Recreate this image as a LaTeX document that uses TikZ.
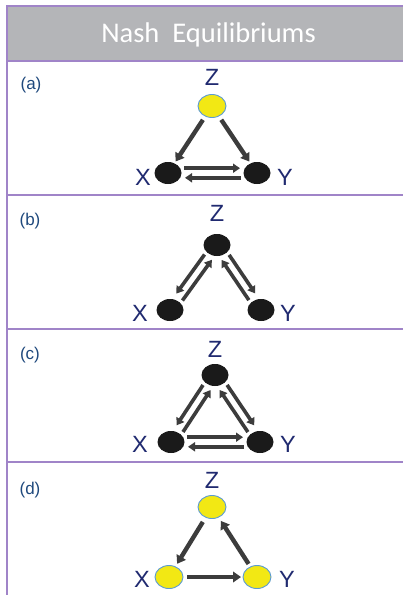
\documentclass[tikz,border=0pt]{standalone}
\usepackage{fontspec}
\setmainfont{Liberation Sans}
\newfontfamily\headfont{Carlito}
\usetikzlibrary{arrows.meta,calc,shapes.geometric}
\definecolor{headgray}{RGB}{180,181,184}
\definecolor{bordercol}{RGB}{160,132,200}
\definecolor{navy}{RGB}{32,42,112}
\definecolor{labblue}{RGB}{31,73,125}
\definecolor{arrgray}{RGB}{60,60,60}
\definecolor{yel}{RGB}{242,232,20}
\definecolor{yelborder}{RGB}{91,155,213}
\definecolor{blk}{RGB}{26,26,26}
\begin{document}
\begin{tikzpicture}[x=1pt,y=-1pt,
  border/.style={draw=bordercol,line width=1.8pt},
  yellownode/.style={ellipse,fill=yel,draw=yelborder,line width=0.9pt,minimum width=28pt,minimum height=23pt,inner sep=0pt},
  blacknode/.style={ellipse,fill=blk,minimum width=27pt,minimum height=22pt,inner sep=0pt},
  letter/.style={text=navy,font=\fontsize{23.5}{24}\selectfont,anchor=base,inner sep=0pt},
  rowlabel/.style={text=labblue,font=\fontsize{17}{18}\selectfont,anchor=base,inner sep=0pt},
  arr/.style={draw=arrgray,line width=4.4pt,-{Triangle[width=10.5pt,length=8pt]}},
  thinarr/.style={draw=arrgray,line width=3.6pt,-{Triangle[width=9pt,length=7pt]}}
]
\useasboundingbox (0,0) rectangle (403,595);
\fill[white] (0,0) rectangle (403,595);
% table
\fill[headgray] (7,6) rectangle (403,61);
\draw[border] (7,6) -- (403,6);
\draw[border] (7,61) -- (403,61);
\draw[border] (7,195) -- (403,195);
\draw[border] (7,329) -- (403,329);
\draw[border] (7,462) -- (403,462);
\draw[border] (7,5.1) -- (7,595);
\node[text=white,font=\headfont\fontsize{28.5}{30}\selectfont,anchor=base,inner sep=0pt] (title) at (208.5,42) {Nash\ \ Equilibriums};
% row labels
\node[rowlabel] (la) at (31,89) {(a)};
\node[rowlabel] (lb) at (30,225) {(b)};
\node[rowlabel] (lc) at (30,359) {(c)};
\node[rowlabel] (ld) at (30,494) {(d)};

% ---------- (a)
\node[yellownode] (Za) at (212,106) {};
\node[blacknode] (Xa) at (168,173) {};
\node[blacknode] (Ya) at (257,173) {};
\node[letter] (tZa) at (212,85) {Z};
\node[letter] (tXa) at (143,185) {X};
\node[letter] (tYa) at (285,185) {Y};
\draw[arr,shorten <=4pt,shorten >=2pt] (Za) -- (Xa);
\draw[arr,shorten <=4pt,shorten >=2pt] (Za) -- (Ya);
\draw[thinarr,shorten <=16pt,shorten >=17pt] ($(Xa)!4.8pt!90:(Ya)$) -- ($(Ya)!4.8pt!-90:(Xa)$);
\draw[thinarr,shorten <=16pt,shorten >=17pt] ($(Ya)!4.8pt!90:(Xa)$) -- ($(Xa)!4.8pt!-90:(Ya)$);

% ---------- (b)
\node[blacknode] (Zb) at (217,245) {};
\node[blacknode] (Xb) at (170,310) {};
\node[blacknode] (Yb) at (261,310) {};
\node[letter] (tZb) at (217,221) {Z};
\node[letter] (tXb) at (140,321) {X};
\node[letter] (tYb) at (288,321) {Y};
\draw[thinarr,shorten <=15pt,shorten >=17pt] ($(Zb)!4.5pt!-90:(Xb)$) -- ($(Xb)!4.5pt!90:(Zb)$);
\draw[thinarr,shorten <=15pt,shorten >=15pt] ($(Xb)!4.5pt!-90:(Zb)$) -- ($(Zb)!4.5pt!90:(Xb)$);
\draw[thinarr,shorten <=15pt,shorten >=17pt] ($(Zb)!4.5pt!90:(Yb)$) -- ($(Yb)!4.5pt!-90:(Zb)$);
\draw[thinarr,shorten <=15pt,shorten >=15pt] ($(Yb)!4.5pt!90:(Zb)$) -- ($(Zb)!4.5pt!-90:(Yb)$);

% ---------- (c)
\node[blacknode] (Zc) at (215,375) {};
\node[blacknode] (Xc) at (171,442) {};
\node[blacknode] (Yc) at (260,442) {};
\node[letter] (tZc) at (215,357) {Z};
\node[letter] (tXc) at (140,452) {X};
\node[letter] (tYc) at (288,452) {Y};
\draw[thinarr,shorten <=15pt,shorten >=17pt] ($(Zc)!4.5pt!-90:(Xc)$) -- ($(Xc)!4.5pt!90:(Zc)$);
\draw[thinarr,shorten <=15pt,shorten >=15pt] ($(Xc)!4.5pt!-90:(Zc)$) -- ($(Zc)!4.5pt!90:(Xc)$);
\draw[thinarr,shorten <=15pt,shorten >=17pt] ($(Zc)!4.5pt!90:(Yc)$) -- ($(Yc)!4.5pt!-90:(Zc)$);
\draw[thinarr,shorten <=15pt,shorten >=15pt] ($(Yc)!4.5pt!90:(Zc)$) -- ($(Zc)!4.5pt!-90:(Yc)$);
\draw[thinarr,shorten <=16pt,shorten >=17pt] ($(Xc)!4.8pt!90:(Yc)$) -- ($(Yc)!4.8pt!-90:(Xc)$);
\draw[thinarr,shorten <=16pt,shorten >=17pt] ($(Yc)!4.8pt!90:(Xc)$) -- ($(Xc)!4.8pt!-90:(Yc)$);

% ---------- (d)
\node[yellownode] (Zd) at (212,507) {};
\node[yellownode] (Xd) at (169,577) {};
\node[yellownode] (Yd) at (257,577) {};
\node[letter] (tZd) at (212,488) {Z};
\node[letter] (tXd) at (142,587) {X};
\node[letter] (tYd) at (287,587) {Y};
\draw[arr,shorten <=5pt,shorten >=3pt] (Zd) -- (Xd);
\draw[arr,shorten <=3pt,shorten >=4pt] (Yd) -- (Zd);
\draw[arr,shorten <=4pt,shorten >=1.5pt] (Xd) -- (Yd);
\end{tikzpicture}
\end{document}
